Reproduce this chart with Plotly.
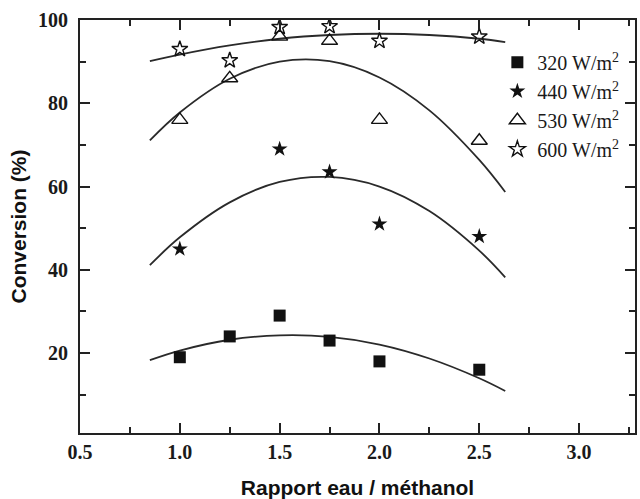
import plotly.graph_objects as go

# Measured conversion (%) versus water/methanol ratio, per irradiance
ratio_320 = [1.0, 1.25, 1.5, 1.75, 2.0, 2.5]
conv_320 = [19, 24, 29, 23, 18, 16]

ratio_440 = [1.0, 1.5, 1.75, 2.0, 2.5]
conv_440 = [45, 69, 63.5, 51, 48]

ratio_530 = [1.0, 1.25, 1.5, 1.75, 2.0, 2.5]
conv_530 = [76, 86, 96, 95, 76, 71]

ratio_600 = [1.0, 1.25, 1.5, 1.75, 2.0, 2.5]
conv_600 = [93, 90.3, 98.3, 98.5, 95, 96]

# Trend curves (values sampled along each fitted curve)
fit_ratio = [0.85, 1.0, 1.25, 1.5, 1.75, 2.0, 2.25, 2.5, 2.63]
fit_320 = [18.3, 20.6, 23.2, 24.25, 23.9, 22.05, 18.7, 13.95, 10.9]
fit_440 = [41.1, 47.8, 56.2, 61.1, 62.3, 60.0, 54.1, 44.6, 38.2]
fit_530 = [71.1, 77.8, 85.9, 90.0, 90.1, 86.2, 78.3, 66.4, 58.7]
fit_600 = [90.1, 91.7, 93.9, 95.5, 96.4, 96.7, 96.4, 95.5, 94.7]

series_names = ["320 W/m<sup>2</sup>", "440 W/m<sup>2</sup>",
                "530 W/m<sup>2</sup>", "600 W/m<sup>2</sup>"]

x_ticks = [0.5, 1.0, 1.5, 2.0, 2.5, 3.0]
y_ticks = [20, 40, 60, 80, 100]

INK = "#111111"
LINE = "#2a2a2a"

fig = go.Figure()

for fx, fy in [(fit_ratio, fit_320), (fit_ratio, fit_440),
               (fit_ratio, fit_530), (fit_ratio, fit_600)]:
    fig.add_trace(go.Scatter(
        x=fx, y=fy, mode="lines", line=dict(color=LINE, width=1.8, shape="spline"),
        showlegend=False, hoverinfo="skip"))

marker_styles = [
    dict(symbol="square", size=12, color=INK),
    dict(symbol="star", size=12, color=INK),
    dict(symbol="triangle-up-open", size=14, color=INK, line=dict(width=1.4, color=INK)),
    dict(symbol="star-open", size=12, color=INK, line=dict(width=1.4, color=INK)),
]
data = [(ratio_320, conv_320), (ratio_440, conv_440),
        (ratio_530, conv_530), (ratio_600, conv_600)]

for i, ((xs, ys), name, mk) in enumerate(zip(data, series_names, marker_styles)):
    fig.add_trace(go.Scatter(
        x=xs, y=ys, mode="markers", name=name, marker=mk,
        legendgroup=f"g{i}"))

tick_font = dict(family="Liberation Serif", size=20, color="#1a1a1a", weight="bold")
title_font = dict(family="Liberation Sans", size=21, color="#111111", weight="bold")

axis_common = dict(
    showline=True, linecolor="#222222", linewidth=2, mirror="ticks",
    ticks="inside", ticklen=10, tickwidth=1.5, tickcolor="#222222",
    showgrid=False, zeroline=False, tickfont=tick_font, automargin=False,
)

fig.update_xaxes(
    range=[0.5, 3.28], tickvals=x_ticks, tickformat=".1f",
    minor=dict(ticks="inside", ticklen=6, tickwidth=1.5, tickcolor="#222222", dtick=0.25, tick0=0.5),
    title=dict(text="Rapport eau / méthanol", font=title_font, standoff=18),
    ticklabelstandoff=0,
    **axis_common,
)
fig.update_yaxes(
    range=[0.8, 100], tickvals=y_ticks,
    minor=dict(ticks="inside", ticklen=6, tickwidth=1.5, tickcolor="#222222", dtick=10, tick0=0),
    title=dict(text="Conversion (%)", font=title_font, standoff=6),
    ticklabelstandoff=6,
    **axis_common,
)

fig.update_layout(
    width=640, height=499,
    margin=dict(l=80, r=5, t=20, b=66),
    paper_bgcolor="white", plot_bgcolor="white",
    legend=dict(
        x=0.752, y=0.945, xanchor="left", yanchor="top",
        bgcolor="rgba(0,0,0,0)", tracegroupgap=0,
        font=dict(family="Liberation Serif", size=20, color="#1a1a1a"),
    ),
)

fig.write_html("out.html")
